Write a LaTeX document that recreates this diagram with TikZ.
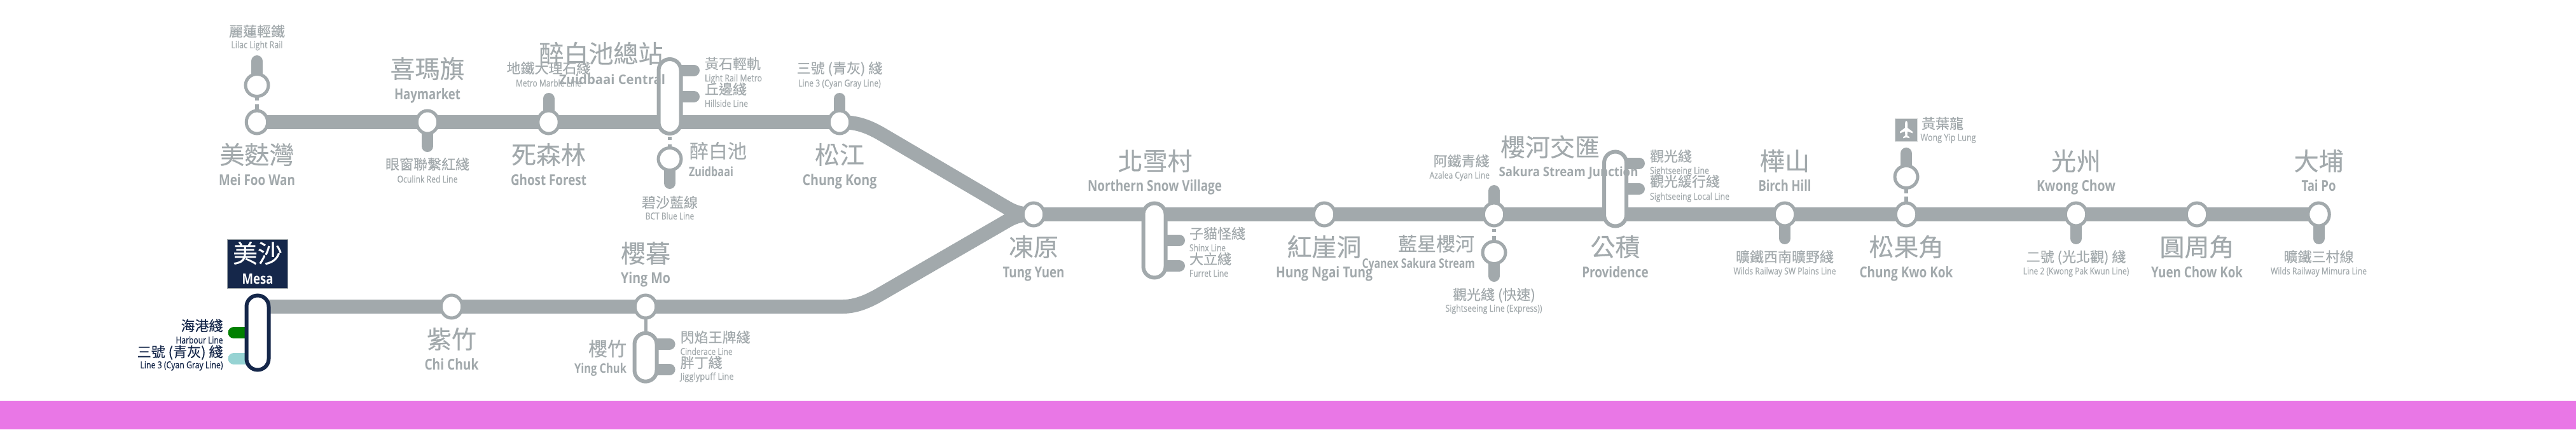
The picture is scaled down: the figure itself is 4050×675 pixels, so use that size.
\documentclass[tikz,border=0pt]{standalone}
\usepackage{fontspec}
\usepackage{graphicx}
\usetikzlibrary{shapes.geometric,backgrounds}
\newfontfamily\zhfont[FakeBold=0.25]{Noto Sans CJK TC}
\newfontfamily\enfont{Open Sans}
\newfontfamily\ensmall[FakeBold=0.5]{Open Sans}
\definecolor{railgray}{HTML}{A2A9AC}
\definecolor{navy}{HTML}{15274A}
\definecolor{bandpink}{HTML}{E977E6}
\definecolor{harbour}{HTML}{008000}
\definecolor{cyangray}{HTML}{96D3D3}
\newcommand\fw[2]{\resizebox{#1pt}{\height}{#2}}
\tikzset{
  lab/.style={inner sep=0pt,outer sep=0pt,text=railgray,anchor=base},
  zhL/.style={lab,font=\zhfont\fontsize{39}{39}\selectfont},
  zhM/.style={lab,font=\zhfont\fontsize{30}{30}\selectfont},
  zhS/.style={lab,font=\zhfont\fontsize{22}{22}\selectfont},
  enL/.style={lab,font=\enfont\bfseries\fontsize{23.5}{24}\selectfont},
  enM/.style={lab,font=\enfont\bfseries\fontsize{20.5}{21}\selectfont},
  enS/.style={lab,font=\ensmall\fontsize{15}{16}\selectfont},
  stn/.style={ellipse,draw=railgray,fill=white,line width=5pt,minimum width=33.5pt,minimum height=36pt,inner sep=0pt},
  stnb/.style={ellipse,draw=railgray,fill=white,line width=5pt,minimum width=36pt,minimum height=35pt,inner sep=0pt},
  capsule/.style={rectangle,draw=railgray,fill=white,line width=6pt,rounded corners=17.5pt,minimum width=35pt,minimum height=117pt,inner sep=0pt},
  trunk/.style={draw=railgray,line width=22pt},
  stub/.style={draw=railgray,line width=18pt,line cap=round},
  link/.style={draw=railgray,line width=6pt},
}
\begin{document}
\begin{tikzpicture}[x=1pt,y=-1pt]
\useasboundingbox (0,0) rectangle (4050,675);
\fill[bandpink] (0,630) rectangle (4050,675);

% stations
\node[stn] (meifoo) at (404,192) {};
\node[stnb] (lilac) at (404,134) {};
\node[stn] (hay) at (672,192) {};
\node[stn] (ghost) at (862.5,192) {};
\node[capsule] (zc) at (1053,151.5) {};
\node[stnb] (zuid) at (1053,250) {};
\node[stn] (chung) at (1320,192) {};
\node[stn] (tung) at (1625,337) {};
\node[capsule] (nsv) at (1815,378) {};
\node[stn] (hung) at (2082,337) {};
\node[stn] (sakura) at (2349,337) {};
\node[stnb] (cyanex) at (2349,397) {};
\node[capsule] (prov) at (2539.5,297) {};
\node[stn] (birch) at (2806,337) {};
\node[stn] (ckk) at (2997,337) {};
\node[stnb] (wyl) at (2997,278) {};
\node[stn] (kwong) at (3264,337) {};
\node[stn] (yuen) at (3454,337) {};
\node[stn] (taipo) at (3645.5,337) {};
\node[capsule,draw=navy] (mesa) at (405,523) {};
\node[stn] (chichuk) at (710,482) {};
\node[stn] (yingmo) at (1015,482) {};
\node[capsule,minimum height=76pt] (yingchuk) at (1015,561.7) {};

% free ends of the stubs
\coordinate (lilacE) at (404,96);
\coordinate (hayE) at (672,230);
\coordinate (ghostE) at (862.5,155);
\coordinate (zcA) at (1091,110.5);
\coordinate (zcB) at (1091,152);
\coordinate (zuidE) at (1053,288);
\coordinate (chungE) at (1320,155);
\coordinate (nsvA) at (1854,378);
\coordinate (nsvB) at (1854,418);
\coordinate (sakuraE) at (2349,300);
\coordinate (cyanexE) at (2349,434);
\coordinate (provA) at (2577,256.5);
\coordinate (provB) at (2577,297);
\coordinate (birchE) at (2806,375);
\coordinate (wylE) at (2997,241);
\coordinate (kwongE) at (3264,375);
\coordinate (taipoE) at (3645.5,375);
\coordinate (mesaA) at (367.5,523);
\coordinate (mesaB) at (367.5,563.5);
\coordinate (ycA) at (1052.6,541);
\coordinate (ycB) at (1052.6,581);
% trunk bends
\coordinate (upA) at (1386,210.8);
\coordinate (upB) at (1575,321.8);
\coordinate (loA) at (1383,463.2);
\coordinate (loB) at (1575,352.2);

\begin{scope}[on background layer]
\draw[trunk] (meifoo.center) -- (chung.center);
\draw[trunk] (chung.center) .. controls (1345,192) and (1362,197) .. (upA) -- (upB) .. controls (1590,330.6) and (1600,337) .. (tung.center);
\draw[trunk] (mesa.center |- chichuk) -- (yingmo.center) -- (1325,482) .. controls (1342,482) and (1360,476.5) .. (loA) -- (loB) .. controls (1590,343.4) and (1600,337) .. (tung.center);
\draw[trunk] (tung.center) -- (taipo.center);
\draw[stub] (lilac.center) -- (lilacE);
\draw[stub] (hay.center) -- (hayE);
\draw[stub] (ghost.center) -- (ghostE);
\draw[stub] (zc.center |- zcA) -- (zcA);
\draw[stub] (zc.center |- zcB) -- (zcB);
\draw[stub] (zuid.center) -- (zuidE);
\draw[stub] (chung.center) -- (chungE);
\draw[stub] (nsv.center |- nsvA) -- (nsvA);
\draw[stub] (nsv.center |- nsvB) -- (nsvB);
\draw[stub] (sakura.center) -- (sakuraE);
\draw[stub] (cyanex.center) -- (cyanexE);
\draw[stub] (prov.center |- provA) -- (provA);
\draw[stub] (prov.center |- provB) -- (provB);
\draw[stub] (birch.center) -- (birchE);
\draw[stub] (wyl.center) -- (wylE);
\draw[stub] (kwong.center) -- (kwongE);
\draw[stub] (taipo.center) -- (taipoE);
\draw[stub,draw=harbour] (mesa.center |- mesaA) -- (mesaA);
\draw[stub,draw=cyangray] (mesa.center |- mesaB) -- (mesaB);
\draw[stub] (yingchuk.center |- ycA) -- (ycA);
\draw[stub] (yingchuk.center |- ycB) -- (ycB);
\draw[link,dash pattern=on 24pt off 6pt on 30pt off 0pt] (lilac.center) -- (meifoo.center);
\draw[link,dash pattern=on 0pt off 2pt on 5pt off 7pt on 40pt off 0pt] (zc.south) -- (zuid.center);
\draw[link,dash pattern=on 20pt off 3pt on 5pt off 6pt on 40pt off 0pt] (sakura.center) -- (cyanex.center);
\draw[link,dash pattern=on 26pt off 5pt on 40pt off 0pt] (wyl.center) -- (ckk.center);
\draw[link,line width=5pt] (yingmo.center) -- (yingchuk.center);
\end{scope}

% Mesa, the current station
\node[rectangle,draw=railgray,line width=1pt,fill=navy,minimum width=95pt,minimum height=77pt,inner sep=0pt] (mesabox) at (405,415) {};
\node[zhL,text=white] (mesaZh) at (405,412.8) {美沙};
\node[enL,text=white,font=\enfont\bfseries\fontsize{22.5}{24}\selectfont] (mesaEn) at (405,446) {\fw{49}{Mesa}};
\node[zhS,text=navy,anchor=base east] (harZh) at (350.5,520.4) {海港綫};
\node[enS,text=navy,anchor=base east] (harEn) at (350.5,540) {\fw{74}{Harbour Line}};
\node[zhS,text=navy,anchor=base east] (l3Zh) at (350.5,561.4) {三號 (青灰) 綫};
\node[enS,text=navy,anchor=base east] (l3En) at (350.5,579) {\fw{130}{Line 3 (Cyan Gray Line)}};

% upper branch
\node[zhS] (lilacZh) at (404,57.4) {麗蓮輕鐵};
\node[enS] (lilacEn) at (404,75.7) {\fw{81}{Lilac Light Rail}};
\node[zhL] (meifooZh) at (404,257.8) {美麩灣};
\node[enL] (meifooEn) at (404,291.7) {\fw{120}{Mei Foo Wan}};
\node[zhL] (hayZh) at (672,122.8) {喜瑪旗};
\node[enL] (hayEn) at (672,156) {\fw{104}{Haymarket}};
\node[zhS] (redZh) at (672,266.4) {眼窗聯繫紅綫};
\node[enS] (redEn) at (672,287) {\fw{95}{Oculink Red Line}};
\node[zhL] (zcZh) at (945,98.8) {醉白池總站};
\node[enM] (zcEn) at (962.5,132.5) {\fw{167}{Zuidbaai Central}};
\node[zhS] (marZh) at (862.5,115.4) {地鐵大理石綫};
\node[enS] (marEn) at (862.5,136) {\fw{103}{Metro Marble Line}};
\node[zhL] (ghostZh) at (862.5,257.8) {死森林};
\node[enL] (ghostEn) at (862.5,291.7) {\fw{119}{Ghost Forest}};
\node[zhS,anchor=base west] (lrtZh) at (1108,108.4) {黃石輕軌};
\node[enS,anchor=base west] (lrtEn) at (1108,128) {\fw{90}{Light Rail Metro}};
\node[zhS,anchor=base west] (hilZh) at (1108,148.4) {丘邊綫};
\node[enS,anchor=base west] (hilEn) at (1108,168) {\fw{68}{Hillside Line}};
\node[zhM,anchor=base west] (zuidZh) at (1084,248.4) {醉白池};
\node[enM,anchor=base west] (zuidEn) at (1083,277) {\fw{70}{Zuidbaai}};
\node[zhS] (bctZh) at (1053,326.4) {碧沙藍線};
\node[enS] (bctEn) at (1053,345) {\fw{76.5}{BCT Blue Line}};
\node[zhS] (cyanZh) at (1320,115.4) {三號 (青灰) 綫};
\node[enS] (cyanEn) at (1320,136) {\fw{129.5}{Line 3 (Cyan Gray Line)}};
\node[zhL] (chungZh) at (1320,257.8) {松江};
\node[enL] (chungEn) at (1320,291.7) {\fw{117}{Chung Kong}};

% lower branch
\node[zhL] (ccZh) at (710,547.8) {紫竹};
\node[enL] (ccEn) at (710,581) {\fw{85}{Chi Chuk}};
\node[zhL] (ymZh) at (1015,412.8) {櫻暮};
\node[enL] (ymEn) at (1015,445) {\fw{78}{Ying Mo}};
\node[zhM,anchor=base east] (ycZh) at (985,559.4) {櫻竹};
\node[enM,anchor=base east] (ycEn) at (985,586) {\fw{82}{Ying Chuk}};
\node[zhS,anchor=base west] (cinZh) at (1069.6,538.4) {閃焰王牌綫};
\node[enS,anchor=base west] (cinEn) at (1069.6,558) {\fw{82}{Cinderace Line}};
\node[zhS,anchor=base west] (jigZh) at (1069.6,578.4) {胖丁綫};
\node[enS,anchor=base west] (jigEn) at (1069.6,597) {\fw{84}{Jigglypuff Line}};

% main line
\node[zhL] (tungZh) at (1625,402.8) {凍原};
\node[enL] (tungEn) at (1625,436.5) {\fw{97}{Tung Yuen}};
\node[zhL] (nsvZh) at (1816,267.8) {北雪村};
\node[enL] (nsvEn) at (1815.5,300.5) {\fw{211}{Northern Snow Village}};
\node[zhS,anchor=base west] (shxZh) at (1870,375.4) {子貓怪綫};
\node[enS,anchor=base west] (shxEn) at (1870,395) {\fw{57}{Shinx Line}};
\node[zhS,anchor=base west] (furZh) at (1870,415.4) {大立綫};
\node[enS,anchor=base west] (furEn) at (1870,435) {\fw{61}{Furret Line}};
\node[zhL] (hungZh) at (2082,402.8) {紅崖洞};
\node[enL] (hungEn) at (2082,436.5) {\fw{152}{Hung Ngai Tung}};
\node[zhS,anchor=base east] (azaZh) at (2341.5,261.4) {阿鐵青綫};
\node[enS,anchor=base east] (azaEn) at (2342,280.7) {\fw{94.5}{Azalea Cyan Line}};
\node[zhL] (sakZh) at (2437,245.8) {櫻河交匯};
\node[enM] (sakEn) at (2466,277.3) {\fw{219}{Sakura Stream Junction}};
\node[zhM,anchor=base east] (cyxZh) at (2318,394.4) {藍星櫻河};
\node[enM,anchor=base east] (cyxEn) at (2319,421.7) {\fw{177.5}{Cyanex Sakura Stream}};
\node[zhS] (expZh) at (2349,471.4) {觀光綫 (快速)};
\node[enS] (expEn) at (2348.5,490) {\fw{152}{Sightseeing Line (Express))}};
\node[zhS,anchor=base west] (sigZh) at (2594,253.9) {觀光綫};
\node[enS,anchor=base west] (sigEn) at (2594,273.4) {\fw{93}{Sightseeing Line}};
\node[zhS,anchor=base west] (locZh) at (2594,293.4) {觀光緩行綫};
\node[enS,anchor=base west] (locEn) at (2594,314) {\fw{125}{Sightseeing Local Line}};
\node[zhL] (provZh) at (2539.5,402.8) {公積};
\node[enL] (provEn) at (2539.5,436) {\fw{104.5}{Providence}};
\node[zhL] (birchZh) at (2806,267.8) {樺山};
\node[enL] (birchEn) at (2806,300.7) {\fw{83}{Birch Hill}};
\node[zhS] (swZh) at (2806,411.9) {曠鐵西南曠野綫};
\node[enS] (swEn) at (2806,431.4) {\fw{161}{Wilds Railway SW Plains Line}};
\node[zhL] (ckkZh) at (2997,402.8) {松果角};
\node[enL] (ckkEn) at (2997,436.5) {\fw{147}{Chung Kwo Kok}};
\node[rectangle,fill=railgray,draw=railgray!40,line width=.8pt,minimum width=35pt,minimum height=36pt,inner sep=0pt] (airport) at (2997,204) {};
\fill[white] (2997,190) .. controls (2998.6,190.6) and (2999,192) .. (2999,195) -- (2999,201) -- (3007,207) -- (3007,209.5) -- (2999,206.5) -- (2998.6,213) -- (3002,215.5) -- (3002,217.3) -- (2997,216) -- (2992,217.3) -- (2992,215.5) -- (2995.4,213) -- (2995,206.5) -- (2987,209.5) -- (2987,207) -- (2995,201) -- (2995,195) .. controls (2995,192) and (2995.4,190.6) .. (2997,190) -- cycle;
\node[zhS,anchor=base west] (wylZh) at (3021,202.4) {黃葉龍};
\node[enS,anchor=base west] (wylEn) at (3019.5,221.4) {\fw{87}{Wong Yip Lung}};
\node[zhL] (kwongZh) at (3264,267.8) {光州};
\node[enL] (kwongEn) at (3264,300.7) {\fw{124}{Kwong Chow}};
\node[zhS] (l2Zh) at (3264,411.9) {二號 (光北觀) 綫};
\node[enS] (l2En) at (3264,431.4) {\fw{166.5}{Line 2 (Kwong Pak Kwun Line)}};
\node[zhL] (yuenZh) at (3454,402.8) {圓周角};
\node[enL] (yuenEn) at (3454,436.5) {\fw{144}{Yuen Chow Kok}};
\node[zhL] (tpZh) at (3645.5,267.8) {大埔};
\node[enL] (tpEn) at (3645.5,300.7) {\fw{54}{Tai Po}};
\node[zhS] (mimZh) at (3645.5,411.9) {曠鐵三村線};
\node[enS] (mimEn) at (3645.5,431.4) {\fw{151}{Wilds Railway Mimura Line}};
\end{tikzpicture}
\end{document}
